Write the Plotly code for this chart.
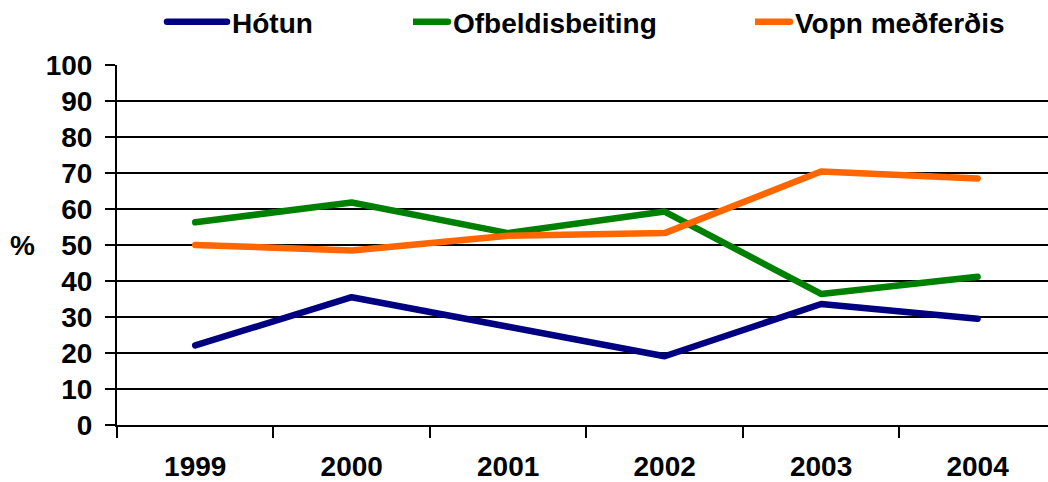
import plotly.graph_objects as go

years = ["1999", "2000", "2001", "2002", "2003", "2004"]
hotun = [22.1, 35.5, 27.3, 19.1, 33.6, 29.5]
ofbeldi = [56.3, 61.8, 53.3, 59.3, 36.4, 41.2]
vopn = [50.0, 48.5, 52.6, 53.3, 70.4, 68.5]
series_names = ["Hótun", "Ofbeldisbeiting", "Vopn meðferðis"]
y_ticks = [0, 10, 20, 30, 40, 50, 60, 70, 80, 90, 100]
grid_vals = [10, 20, 30, 40, 50, 60, 70, 80, 90]

colors = ["#000080", "#008000", "#FF6600"]
W, H = 1048, 482
L, R, T, B = 117, 0, 65, 57
FONT = "Liberation Sans, Arial, sans-serif"

fig = go.Figure()
legend_ids = ["legend", "legend2", "legend3"]
for vals, name, col, lg in zip([hotun, ofbeldi, vopn], series_names, colors, legend_ids):
    fig.add_trace(go.Scatter(x=years, y=vals, name=name, mode="lines",
                             line=dict(color=col, width=6.5), legend=lg))

# helper traces for overlay axes (gridlines / top tick)
fig.add_trace(go.Scatter(x=[], y=[], yaxis="y2", showlegend=False, hoverinfo="skip"))
fig.add_trace(go.Scatter(x=[], y=[], yaxis="y3", showlegend=False, hoverinfo="skip"))

tickfont = dict(family=FONT, size=28, color="black", weight="bold")
legfont = dict(family=FONT, size=28, color="black", weight="bold")

# legend text start positions (px)
text_starts = [232, 453, 795]
legends = {}
for lg, ts in zip(legend_ids, text_starts):
    legends[lg] = dict(x=(ts - 40) / W, xref="container", y=1 - 22 / H, yref="container",
                       xanchor="left", yanchor="middle", orientation="h",
                       font=legfont, bgcolor="rgba(0,0,0,0)", borderwidth=0)

fig.update_layout(
    width=W, height=H,
    margin=dict(l=L, r=R, t=T, b=B, autoexpand=False),
    paper_bgcolor="white", plot_bgcolor="white",
    showlegend=True,
    xaxis=dict(type="category", range=[-0.5, 5.45], showgrid=False, zeroline=False,
               showline=True, linecolor="black", linewidth=2, automargin=False,
               ticks="outside", ticklen=11, tickwidth=2, tickcolor="black",
               tickson="boundaries", tickfont=tickfont, ticklabelstandoff=15),
    yaxis=dict(range=[0, 100], tickvals=y_ticks, showgrid=False, zeroline=False,
               showline=True, linecolor="black", linewidth=2, automargin=False,
               ticks="outside", ticklen=10, tickwidth=2, tickcolor="black",
               tickfont=tickfont, ticklabelstandoff=7),
    yaxis2=dict(range=[0, 100], overlaying="y", tickvals=grid_vals, showgrid=True,
                gridcolor="black", gridwidth=2, showticklabels=False, ticks="",
                showline=False, zeroline=False),
    yaxis3=dict(range=[0, 100], overlaying="y", tickvals=[100], showgrid=False,
                showticklabels=False, ticks="inside", ticklen=17, tickwidth=2,
                tickcolor="black", showline=False, zeroline=False),
    annotations=[dict(text="%", x=(22 - L) / (W - L - R), xref="paper", y=50, yref="y",
                      showarrow=False, font=tickfont, xanchor="center", yanchor="middle")],
    **legends,
)

post = ("document.body.style.margin='0';"
        "document.querySelectorAll('.legend .scrollbox').forEach(function(s){"
        "s.removeAttribute('clip-path');});"
        "document.querySelectorAll('.legendlines path').forEach(function(p){"
        "p.setAttribute('d','M-25,0h60');p.style.strokeLinecap='round';});"
        "document.querySelectorAll('.scatterlayer .js-line').forEach(function(p){"
        "p.style.strokeLinecap='round';p.style.strokeLinejoin='round';});")
fig.write_html("out.html", post_script=post, config={"displayModeBar": False})
